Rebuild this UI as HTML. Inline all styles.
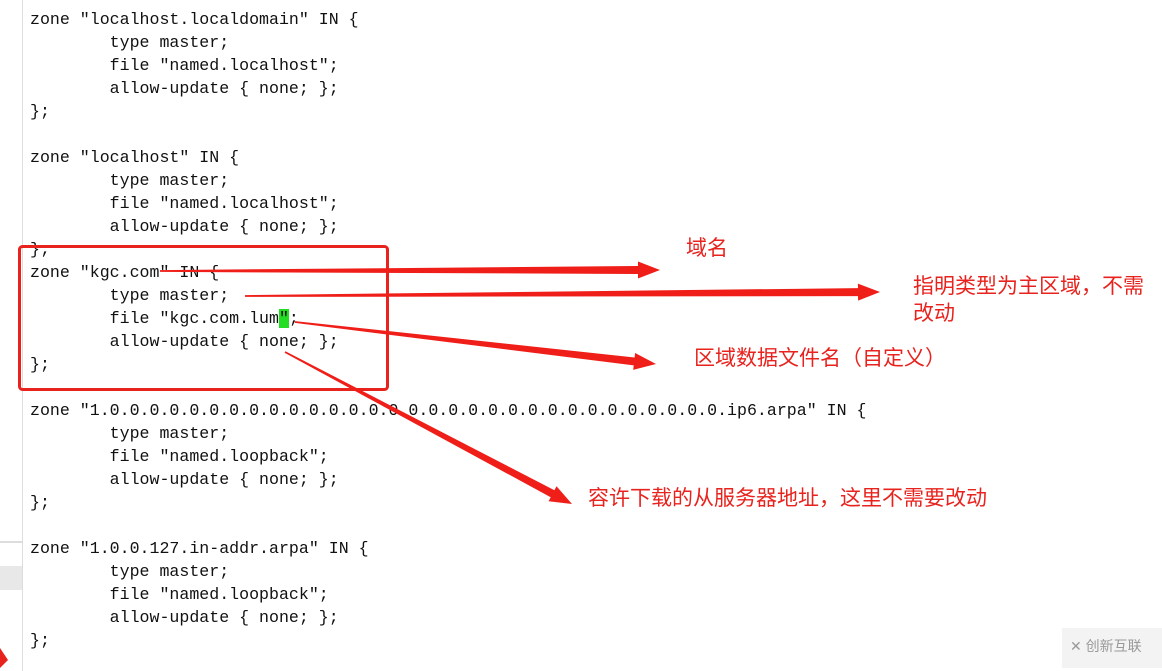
<!DOCTYPE html>
<html><head><meta charset="utf-8"><style>
body{margin:0;width:1162px;height:671px;overflow:hidden;background:#fff;position:relative;font-family:"Liberation Mono",monospace}
pre{position:absolute;left:30px;top:8px;margin:0;font-family:"Liberation Mono",monospace;font-size:16.6px;line-height:23px;color:#111}
.lbl{position:absolute;color:#e8231e;font-family:"Liberation Sans","Noto Sans CJK SC",sans-serif;font-size:21px;line-height:27px;white-space:nowrap}
.g{background:#22dd22}
</style></head><body>
<div style="position:absolute;left:22px;top:0;width:1px;height:671px;background:#ddd"></div>
<div style="position:absolute;left:0;top:541px;width:22px;height:2px;background:#ddd"></div>
<div style="position:absolute;left:0;top:566px;width:22px;height:24px;background:#e8e8e8"></div>
<pre>zone "localhost.localdomain" IN {
        type master;
        file "named.localhost";
        allow-update { none; };
};

zone "localhost" IN {
        type master;
        file "named.localhost";
        allow-update { none; };
};
zone "kgc.com" IN {
        type master;
        file "kgc.com.lum<span class="g">"</span>;
        allow-update { none; };
};

zone "1.0.0.0.0.0.0.0.0.0.0.0.0.0.0.0.0.0.0.0.0.0.0.0.0.0.0.0.0.0.0.0.ip6.arpa" IN {
        type master;
        file "named.loopback";
        allow-update { none; };
};

zone "1.0.0.127.in-addr.arpa" IN {
        type master;
        file "named.loopback";
        allow-update { none; };
};</pre>
<svg id="s" width="1162" height="671" style="position:absolute;left:0;top:0">
<rect x="19.5" y="246.5" width="368" height="143" rx="3" fill="none" stroke="#e8231e" stroke-width="3"/>
<polygon points="0,648 8,660 0,668" fill="#e8231e"/>
</svg>
<div class="lbl" style="left:686px;top:235px">域名</div>
<div class="lbl" style="left:913px;top:273px">指明类型为主区域，不需</div>
<div class="lbl" style="left:913px;top:300px">改动</div>
<div class="lbl" style="left:694px;top:345px">区域数据文件名（自定义）</div>
<div class="lbl" style="left:588px;top:485px">容许下载的从服务器地址，这里不需要改动</div>
<div style="position:absolute;left:1062px;top:628px;width:100px;height:40px;background:#f3f3f3"></div>
<div style="position:absolute;left:1070px;top:636px;font-family:'Liberation Sans','Noto Sans CJK SC',sans-serif;font-size:14px;color:#999">✕ 创新互联</div>
<script>
var s=document.getElementById('s');
function arr(x1,y1,x2,y2){
 var dx=x2-x1,dy=y2-y1,L=Math.hypot(dx,dy),ux=dx/L,uy=dy/L,nx=-uy,ny=ux;
 var hl=22,hw=8.5,w0=0.9,w1=4;
 var bx=x2-ux*hl,by=y2-uy*hl;
 var p=[[x1+nx*w0,y1+ny*w0],[bx+nx*w1,by+ny*w1],[bx+nx*hw,by+ny*hw],[x2,y2],[bx-nx*hw,by-ny*hw],[bx-nx*w1,by-ny*w1],[x1-nx*w0,y1-ny*w0]];
 var e=document.createElementNS('http://www.w3.org/2000/svg','polygon');
 e.setAttribute('points',p.map(function(q){return q[0].toFixed(1)+','+q[1].toFixed(1)}).join(' '));
 e.setAttribute('fill','#f01e18');s.appendChild(e);
}
arr(160,271,660,270);
arr(245,296,880,292);
arr(295,322,656,364);
arr(285,352,572,504);
</script>
</body></html>
